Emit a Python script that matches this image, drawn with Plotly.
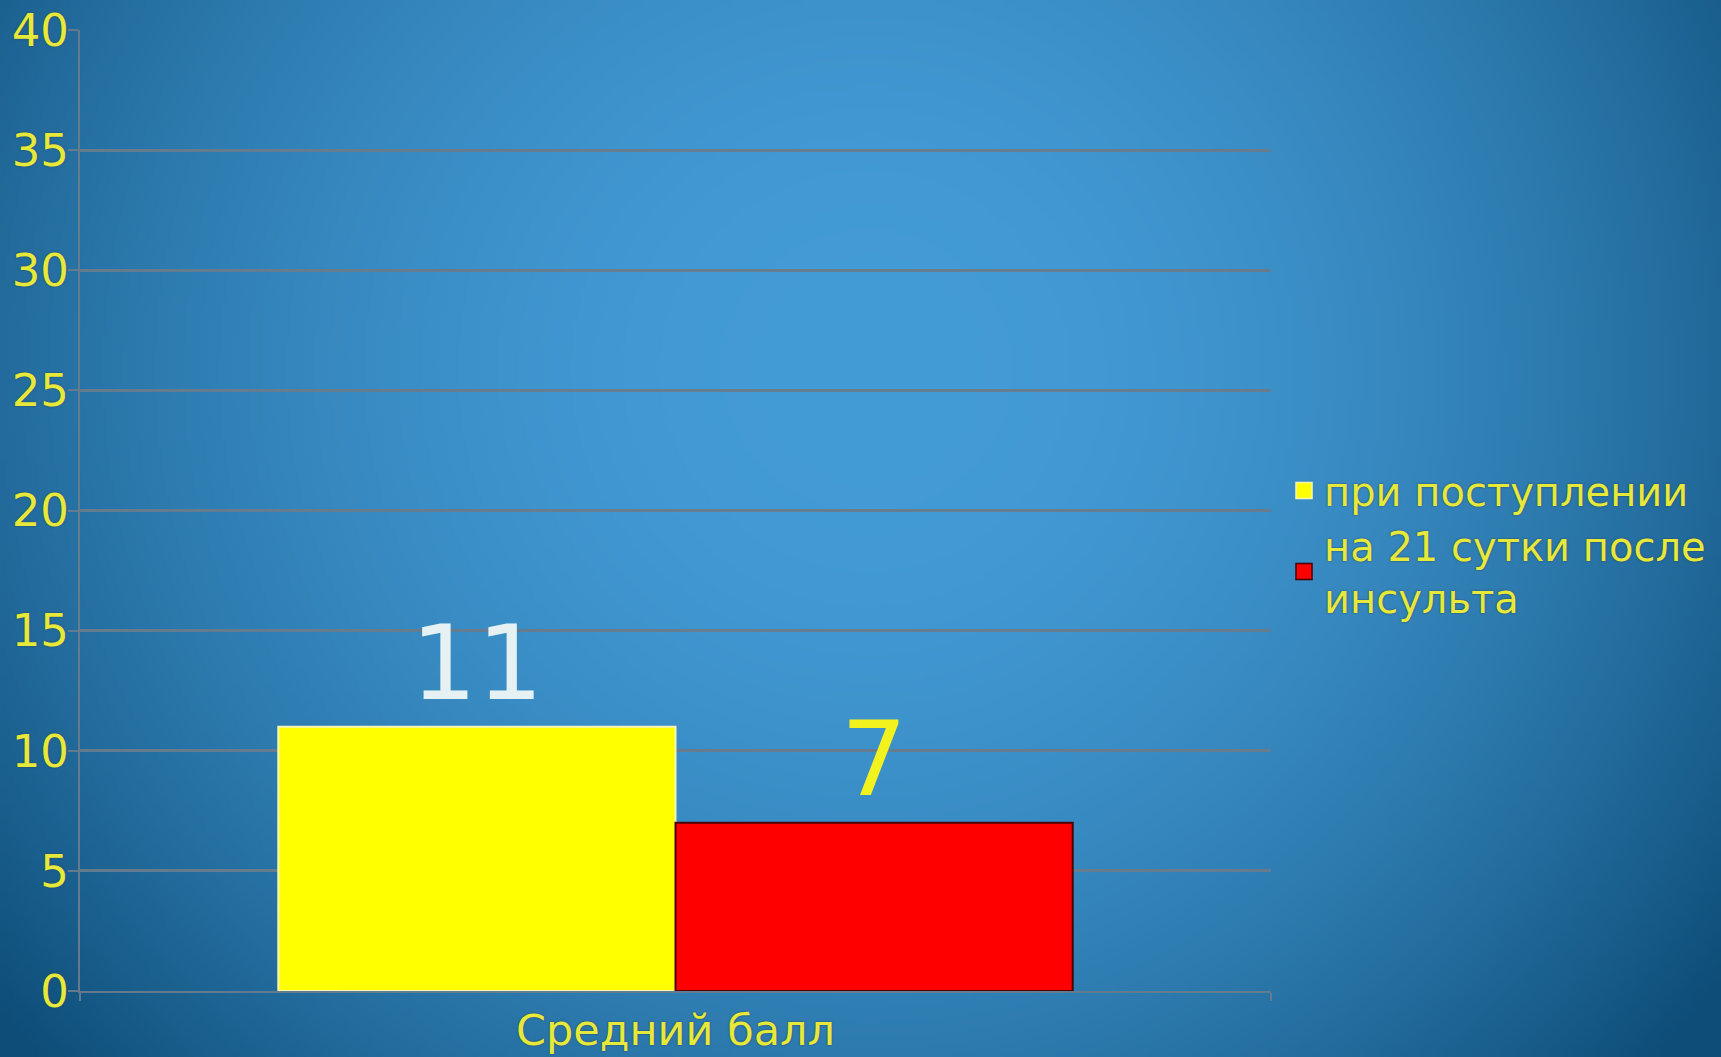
import base64
import struct
import zlib

import numpy as np
import plotly.graph_objects as go

# ---- data -------------------------------------------------------------
categories = ["Средний балл"]
series_names = ["при поступлении", "на 21 сутки после<br>инсульта"]
series_values = [[11], [7]]
y_ticks = [0, 5, 10, 15, 20, 25, 30, 35, 40]

# ---- styling ----------------------------------------------------------
bar_colors = ["#ffff00", "#ff0000"]
bar_edge_colors = ["#f6f6b8", "#4a0000"]
value_label_colors = ["#e6f1f3", "#f2f21e"]
TEXT_YELLOW = "#e6e83a"
GRID = "rgba(104,124,140,0.95)"
FONT = "DejaVu Sans"

W, H = 1721, 1057
ML, MR, MT, MB = 80, 450, 30, 66
PW, PH = W - ML - MR, H - MT - MB


def radial_background(w, h, scale=4):
    """Soft radial blue gradient, returned as a PNG data URI."""
    sw, sh = w // scale, h // scale
    xs = (np.arange(sw) + 0.5) * scale
    ys = (np.arange(sh) + 0.5) * scale
    X, Y = np.meshgrid(xs, ys)
    cx, cy = 870.0, 370.0
    rx = np.where(X < cx, 950.0, 900.0)
    ry = 900.0
    r2 = ((X - cx) / rx) ** 2 + ((Y - cy) / ry) ** 2
    r2 = np.clip(r2, 0, 1.35)
    c0 = np.array([68, 156, 215], dtype=float)
    c1 = np.array([28, 98, 145], dtype=float)
    img = c0 + r2[..., None] * (c1 - c0)
    img = np.clip(img, 0, 255).astype(np.uint8)

    raw = b"".join(b"\x00" + img[i].tobytes() for i in range(sh))

    def chunk(tag, data):
        c = struct.pack(">I", len(data)) + tag + data
        return c + struct.pack(">I", zlib.crc32(tag + data) & 0xFFFFFFFF)

    png = b"\x89PNG\r\n\x1a\n"
    png += chunk(b"IHDR", struct.pack(">IIBBBBB", sw, sh, 8, 2, 0, 0, 0))
    png += chunk(b"IDAT", zlib.compress(raw, 9))
    png += chunk(b"IEND", b"")
    return "data:image/png;base64," + base64.b64encode(png).decode()


fig = go.Figure()

# bars with their values printed above
for name, vals, col, edge, lab in zip(series_names, series_values, bar_colors,
                                      bar_edge_colors, value_label_colors):
    fig.add_trace(go.Bar(
        x=categories, y=vals, name=name, showlegend=False,
        marker=dict(color=col, line=dict(color=edge, width=2)),
        texttemplate="%{y}", textposition="outside", cliponaxis=False,
        textfont=dict(family=FONT, size=104, color=lab),
    ))

# legend entries with larger square swatches
for name, col, edge in zip(series_names, bar_colors, bar_edge_colors):
    fig.add_trace(go.Scatter(
        x=[None], y=[None], mode="markers", name=name,
        marker=dict(symbol="square", size=16, color=col,
                    line=dict(color=edge, width=1.5)),
    ))

SHADOW = "0px 0px 2px #2a3f55"

fig.update_layout(
    width=W, height=H, autosize=False,
    margin=dict(l=ML, r=MR, t=MT, b=MB, pad=0, autoexpand=False),
    paper_bgcolor="#1e6596",
    plot_bgcolor="rgba(0,0,0,0)",
    barmode="group", bargap=0.333, bargroupgap=0,
    font=dict(family=FONT, color=TEXT_YELLOW),
    showlegend=True,
    legend=dict(
        x=(1284 - ML) / PW, xanchor="left",
        y=(H - MB - 458) / PH, yanchor="top",
        bgcolor="rgba(0,0,0,0)", borderwidth=0,
        font=dict(family=FONT, size=40, color=TEXT_YELLOW, shadow=SHADOW),
        tracegroupgap=0, itemwidth=30,
    ),
    images=[dict(
        source=radial_background(W, H),
        xref="paper", yref="paper",
        x=-ML / PW, y=1 + MT / PH,
        sizex=W / PW, sizey=H / PH,
        xanchor="left", yanchor="top",
        sizing="stretch", layer="below",
    )],
    xaxis=dict(
        type="category", showgrid=False, zeroline=False, automargin=False,
        showline=True, linecolor=GRID, linewidth=2,
        ticks="outside", tickson="boundaries", ticklen=8,
        tickcolor=GRID, tickwidth=2,
        tickfont=dict(family=FONT, size=43, color=TEXT_YELLOW, shadow=SHADOW),
    ),
    yaxis=dict(
        range=[0, 40], tickvals=y_ticks, ticktext=[str(v) for v in y_ticks],
        automargin=False,
        showgrid=True, gridcolor=GRID, gridwidth=3, zeroline=False,
        showline=True, linecolor=GRID, linewidth=2,
        ticks="outside", ticklen=10, tickcolor=GRID, tickwidth=2,
        ticklabelstandoff=-10,
        tickfont=dict(family=FONT, size=45, color=TEXT_YELLOW, shadow=SHADOW),
    ),
)

fig.write_html("out.html")
